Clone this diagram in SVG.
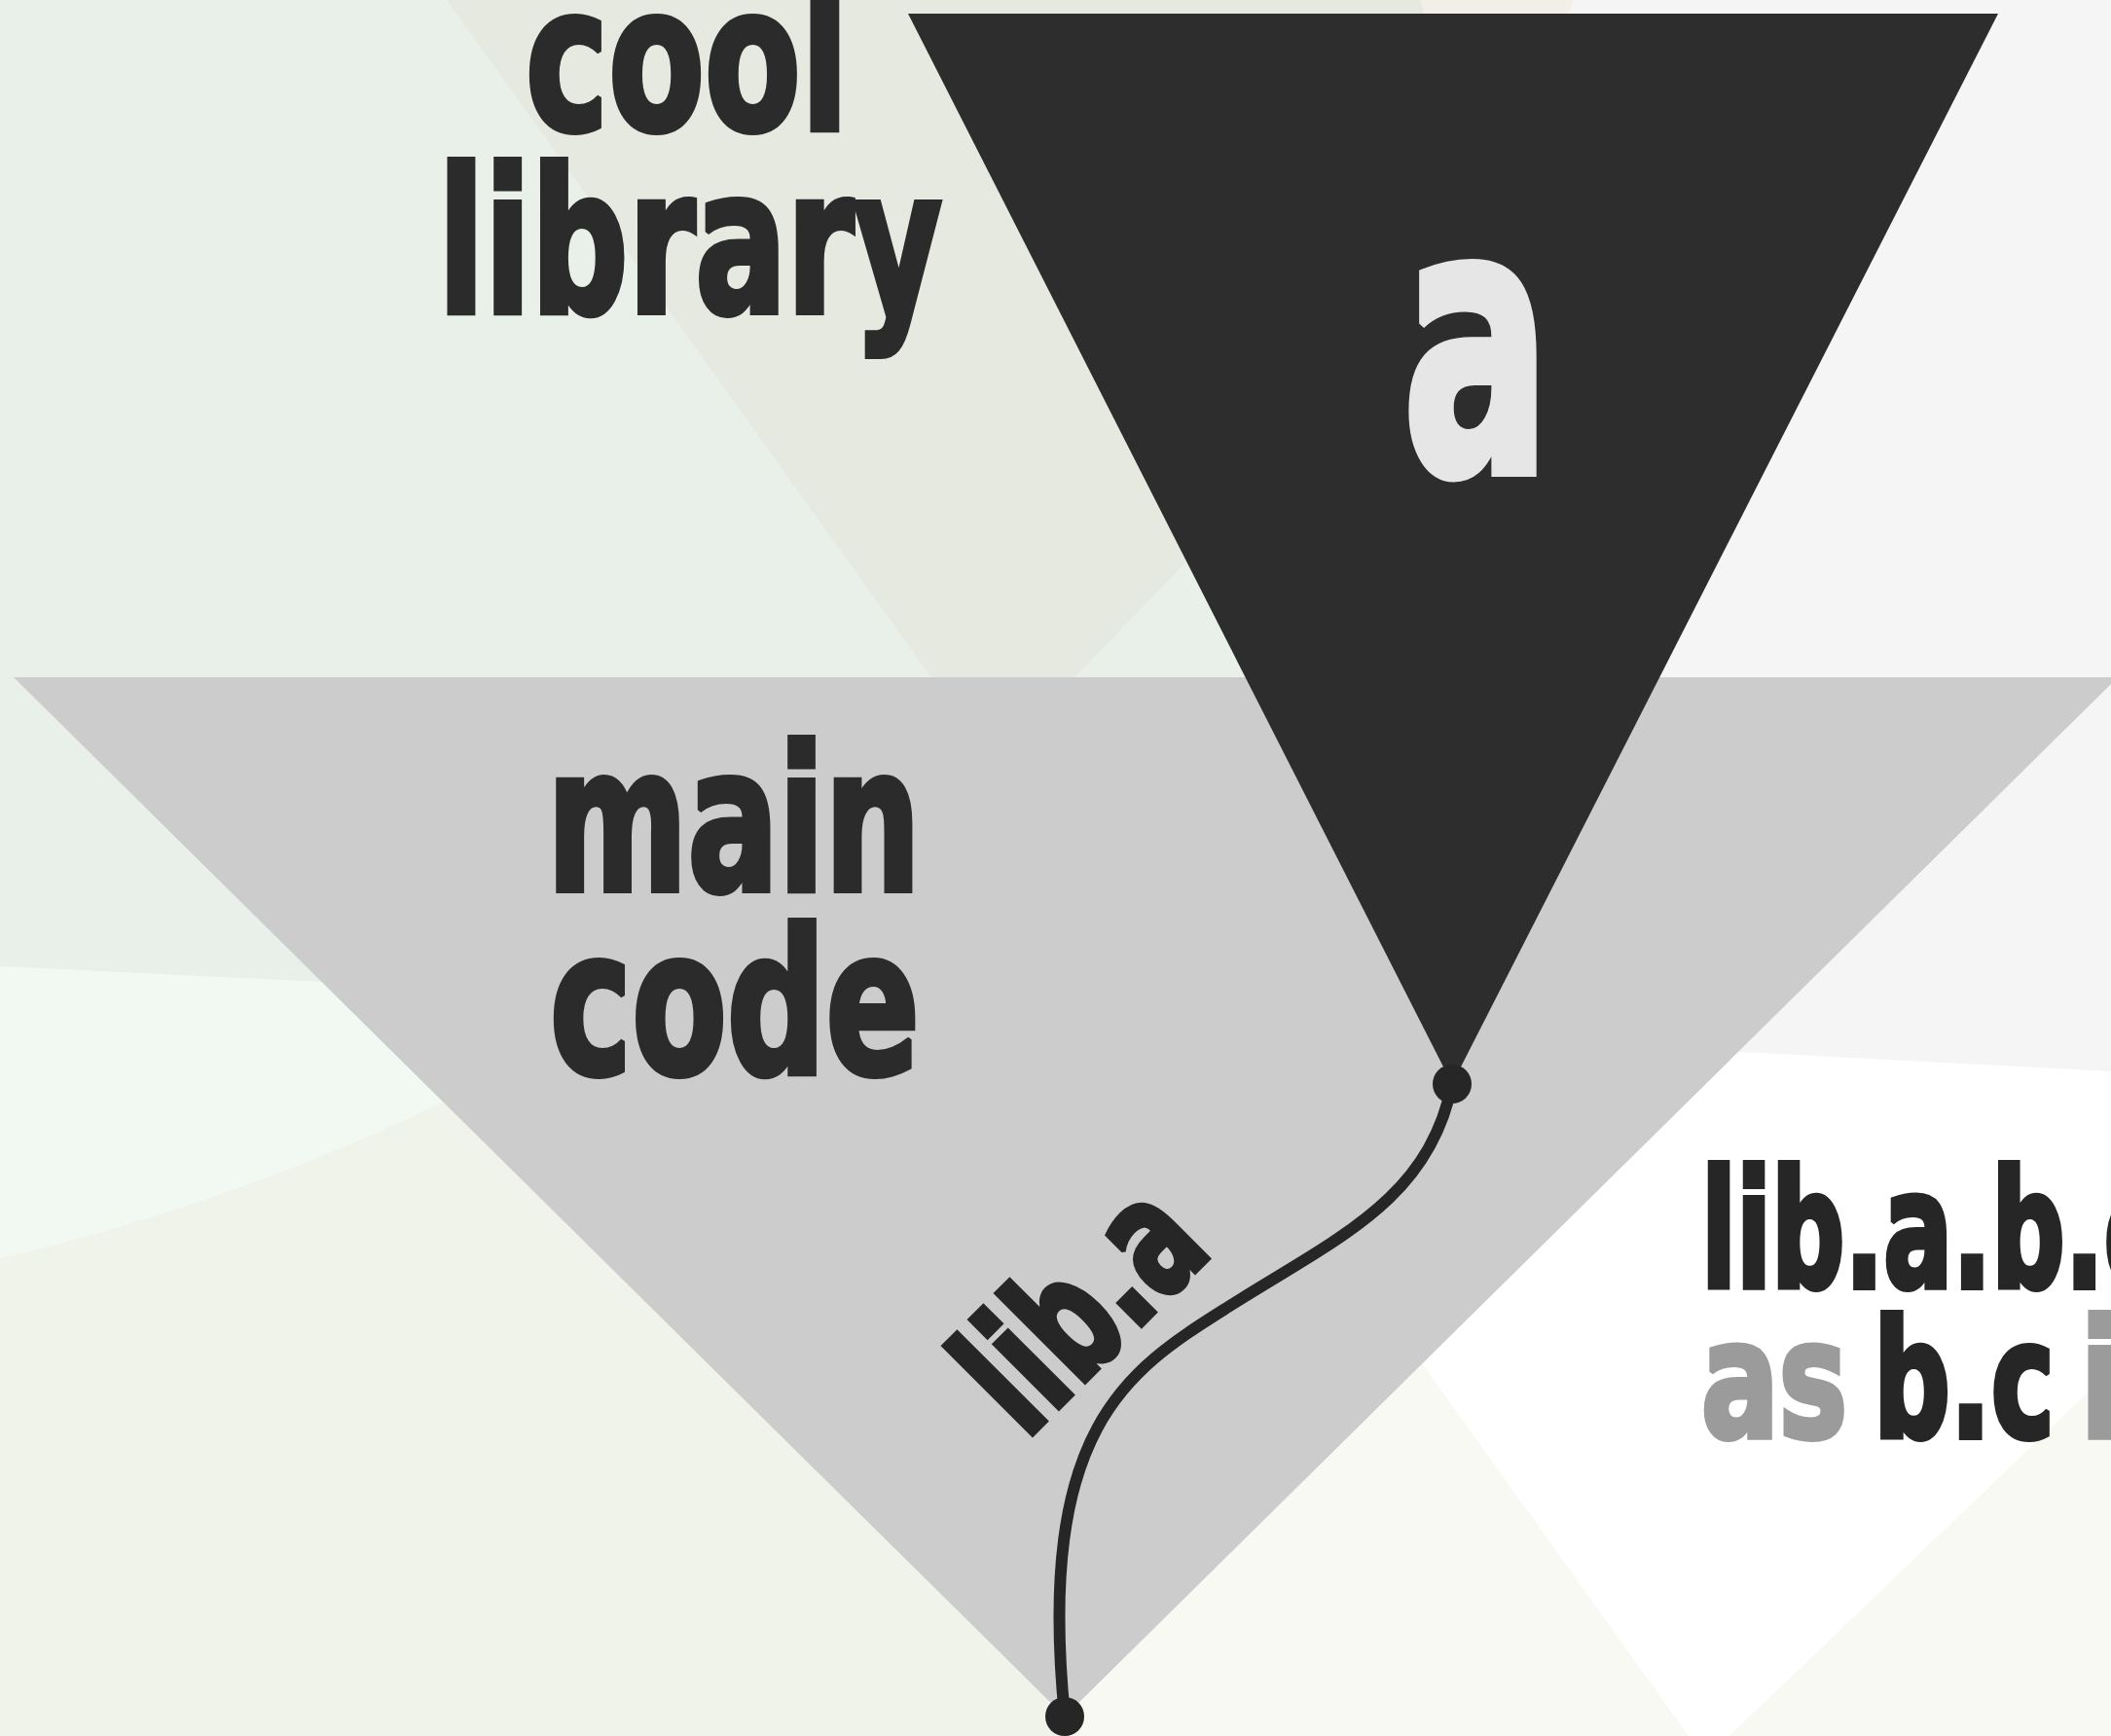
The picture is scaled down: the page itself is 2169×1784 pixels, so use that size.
<svg xmlns="http://www.w3.org/2000/svg" width="2169" height="1784" viewBox="0 0 2169 1784">
<style>
.t{font-family:"DejaVu Sans Condensed","DejaVu Sans","Liberation Sans",sans-serif;font-weight:bold;stroke-linejoin:miter;stroke-miterlimit:2;}
.dk{fill:#2b2b2b;stroke:#2b2b2b;stroke-width:6;}
.dk2{fill:#262626;stroke:#262626;stroke-width:6;}
.gy{fill:#9b9b9b;stroke:#9b9b9b;stroke-width:6;}
.lt{fill:#e6e6e6;stroke:#e6e6e6;stroke-width:10;}
.conn{fill:none;stroke:#262626;stroke-width:12;stroke-linecap:round;}
.dot{fill:#262626;}
</style>
<g id="background">
<rect x="0" y="0" width="2169" height="1784" fill="#f9f9f4"/>
<polygon points="0,700 500,700 1094,1764 1094,1784 0,1784" fill="#f0f3ea"/>
<polygon points="0,0 1300,0 1300,1056 0,993" fill="#e9f0e9"/>
<path d="M0,993 L470,1015.8 L470,1120 L455,1133 Q227.5,1241 0,1293 Z" fill="#f2f9f3"/>
<polygon points="459,0 1460,0 1500,200 1583,200 1104,696 957,696" fill="#e6e9e0"/>
<polygon points="1460,0 1617,0 1581,100 1481,100" fill="#f2efe8"/>
<polygon points="1617,0 2169,0 2169,1101 1600,1071 1581,100" fill="#f5f5f5"/>
<polygon points="1600,1071 2169,1101 2169,1408 1777,1784 1735,1784 1400,1316" fill="#ffffff"/>
</g>
<g id="node-main-code">
<polygon points="14,696 2176,696 1094,1764" fill="#cccccc"/>
<text class="t dk" font-size="206" x="562" y="915" textLength="384" lengthAdjust="spacingAndGlyphs">main</text>
<text class="t dk" font-size="206" x="565" y="1103" textLength="380" lengthAdjust="spacingAndGlyphs">code</text>
</g>
<g id="node-a">
<polygon points="933,14 2053,14 1492,1114" fill="#2d2d2d"/>
<text class="t lt" font-size="382" x="1441" y="485" textLength="152" lengthAdjust="spacingAndGlyphs">a</text>
</g>
<g id="node-cool-library">
<text class="t dk" font-size="206" x="540" y="133" textLength="332" lengthAdjust="spacingAndGlyphs">cool</text>
<text class="t dk" font-size="206" x="450" y="321" textLength="518" lengthAdjust="spacingAndGlyphs">library</text>
</g>
<g id="node-lib-abc">
<text class="t dk2" font-size="168" x="1748" y="1323" textLength="476" lengthAdjust="spacingAndGlyphs">lib.a.b.c</text>
<text class="t" font-size="168" y="1477"><tspan class="gy" x="1748" textLength="150" lengthAdjust="spacingAndGlyphs">as</tspan><tspan class="dk2" x="1925" textLength="186" lengthAdjust="spacingAndGlyphs">b.c</tspan><tspan class="gy" x="2138" textLength="40" lengthAdjust="spacingAndGlyphs">i</tspan></text>
</g>
<g id="connectors">
<path class="conn" d="M1492,1114 C1468,1234 1372,1273 1262,1343 C1160.7,1407.2 1064,1464 1094,1764"/>
<circle class="dot" cx="1492" cy="1114" r="20"/>
<circle class="dot" cx="1094" cy="1764" r="20"/>
<text class="t dk2" font-size="168" transform="translate(1055.8,1481.3) rotate(-45)" x="-1" y="-2" textLength="274" lengthAdjust="spacingAndGlyphs">lib.a</text>
</g>
</svg>
